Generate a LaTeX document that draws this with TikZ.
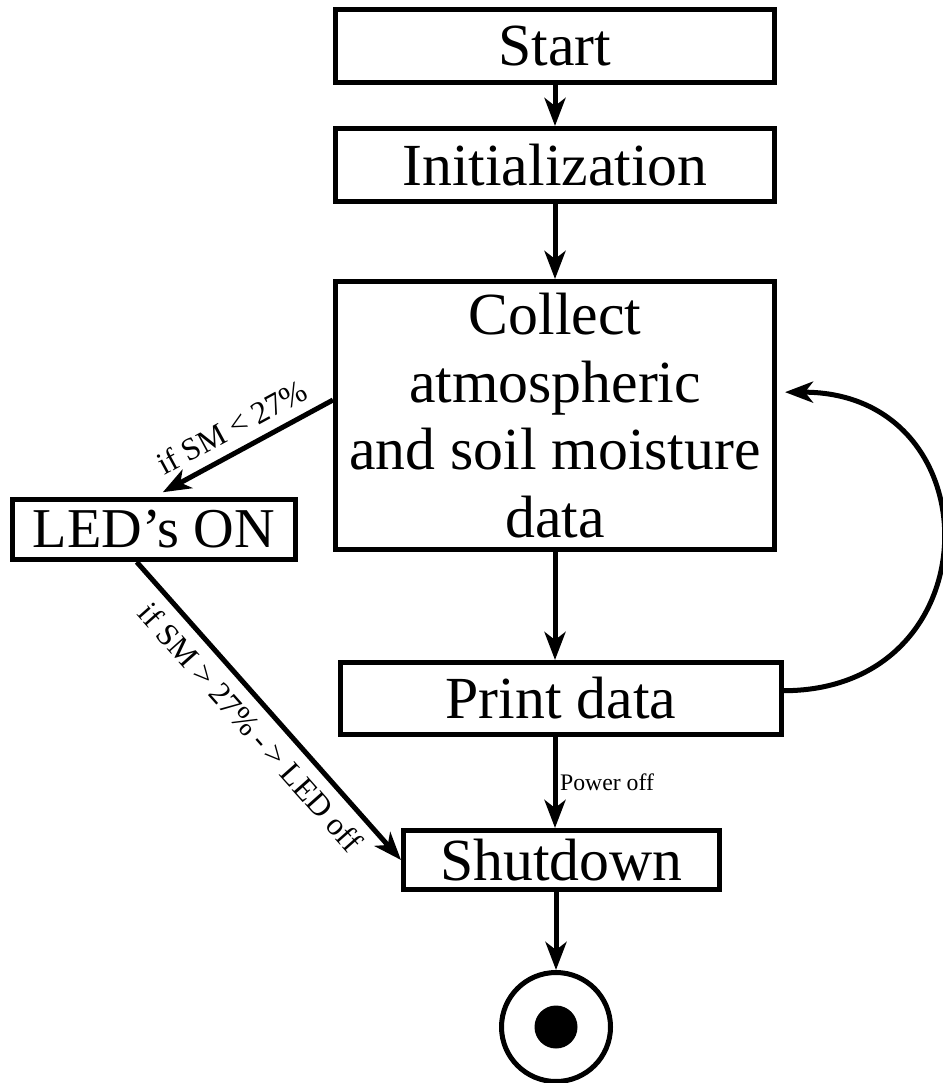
\documentclass[tikz,border=0pt]{standalone}
\usepackage{fontspec}
\setmainfont{Liberation Serif}
\usetikzlibrary{arrows.meta}
\begin{document}
\begin{tikzpicture}[line width=0.1cm,
    box/.style={draw, rectangle, inner sep=0pt, align=center, font=\fontsize{34}{38.5}\selectfont},
    flow/.style={-{Stealth[length=5.6mm, width=4.2mm, inset=1.6mm]}},
    cond/.style={sloped, inner sep=6pt, font=\fontsize{18}{20}\selectfont}]
  \useasboundingbox (0, 0) rectangle (18.84, -21.66);
  % boxes
  \node[box, minimum width=8.78cm, minimum height=1.46cm] (start) at (11.1, -0.92) {Start};
  \node[box, minimum width=8.78cm, minimum height=1.46cm] (init) at (11.1, -3.3) {Initialization};
  \node[box, minimum width=8.78cm, minimum height=5.36cm] (collect) at (11.1, -8.31)
    {Collect\\atmospheric\\and soil moisture\\data};
  \node[box, minimum width=5.66cm, minimum height=1.2cm, font=\fontsize{32}{36}\selectfont] (led) at (3.08, -10.59) {LED’s ON};
  \node[box, minimum width=8.82cm, minimum height=1.44cm] (print) at (11.22, -13.97) {Print data};
  \node[box, minimum width=6.32cm, minimum height=1.18cm] (shutdown) at (11.23, -17.2) {Shutdown};
  \node[draw, circle, minimum size=2.18cm, inner sep=0pt] (stop) at (11.12, -20.54) {};
  \fill (stop) circle (0.43);
  % connectors
  \draw[flow] (start) -- (init);
  \draw[flow] (init) -- (collect);
  \draw[flow] (collect.south) -- (collect.south |- print.north);
  \draw[flow] (print.south -| collect.south) -- (shutdown.north -| collect.south)
    node[midway, right, inner sep=1.5pt, font=\fontsize{13.5}{15}\selectfont] {Power off};
  \draw[flow] (shutdown.south -| stop) -- (stop);
  \draw[flow, shorten >=0.2cm] (collect.176) -- (led.north)
    node[midway, cond, above] {if SM < 27\%};
  \draw[flow] (led.-118) -- (shutdown.west)
    node[midway, cond, below] {if SM > 27\% -\,> LED off};
  \draw[flow, shorten >=0.16cm] (print.2) .. controls (19.9, -13.8) and (19.9, -7.84) .. (collect.6);
\end{tikzpicture}
\end{document}
